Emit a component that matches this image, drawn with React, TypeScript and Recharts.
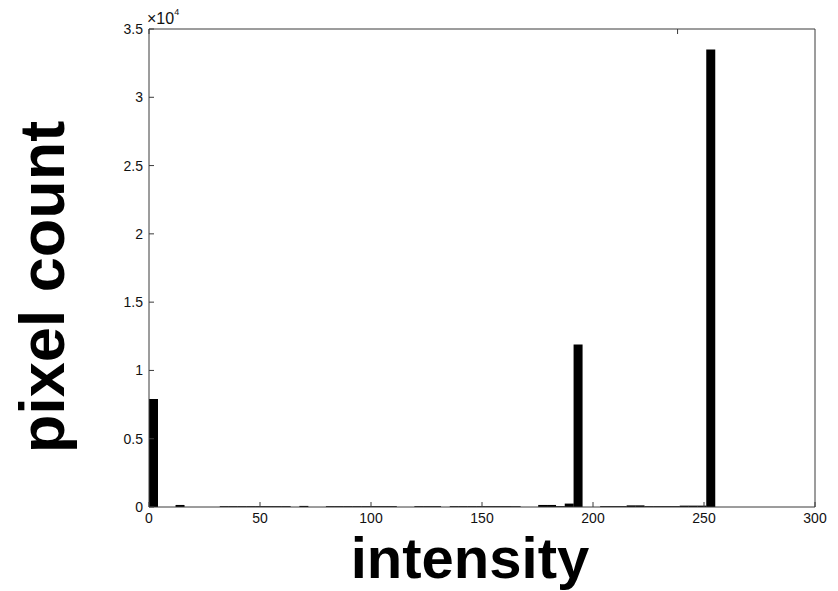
import { BarChart, Bar, XAxis, YAxis } from 'recharts'

// histogram of a 0..255 image, 64 bins
const BIN_COUNT = 64
const BIN_WIDTH = 255 / BIN_COUNT

// pixel count per bin
const counts = [
  7900, 0, 0, 150, 0, 0, 0, 0,
  60, 60, 60, 60, 60, 60, 60, 60,
  0, 80, 0, 0, 60, 60, 60, 60,
  60, 60, 60, 60, 0, 0, 60, 60,
  60, 0, 60, 60, 60, 60, 60, 60,
  60, 60, 0, 0, 150, 150, 60, 250,
  11900, 0, 0, 60, 60, 60, 120, 120,
  60, 60, 60, 60, 100, 100, 100, 33500,
]

const xTicks = [0, 50, 100, 150, 200, 250, 300]
const yTicks = [0, 5000, 10000, 15000, 20000, 25000, 30000, 35000]

const data = counts.slice(0, BIN_COUNT).map((count, i) => ({
  center: (i + 0.5) * BIN_WIDTH,
  count,
}))

const axisColor = '#3a3a3a'
const fontFamily = 'Liberation Sans, Arial, sans-serif'
const tickFont = { fontSize: 14, fill: '#111', fontFamily }

const fmtY = (v: number) => String(v / 10000)
const noLabel = () => <g />

export default function App() {
  return (
    <div style={{ position: 'absolute', left: 0, top: 0, width: 838, height: 591, background: '#fff' }}>
      <BarChart
        width={838}
        height={591}
        data={data}
        margin={{ top: 28, right: 22, left: 109, bottom: 54 }}
        barCategoryGap={0}
        barGap={0}
      >
        <XAxis
          dataKey="center"
          type="number"
          domain={[0, 300]}
          ticks={xTicks}
          height={30}
          stroke={axisColor}
          tickSize={-5}
          tickMargin={11}
          tick={tickFont}
          fontSize={14}
          interval={0}
        />
        <XAxis
          xAxisId="top"
          orientation="top"
          type="number"
          domain={[0, 300]}
          ticks={xTicks}
          height={1}
          stroke={axisColor}
          tickSize={-5}
          tick={noLabel}
          interval={0}
        />
        <YAxis
          type="number"
          domain={[0, 35000]}
          ticks={yTicks}
          width={40}
          stroke={axisColor}
          tickSize={-5}
          tickMargin={11}
          tick={tickFont}
          fontSize={14}
          tickFormatter={fmtY}
          interval={0}
        />
        <YAxis
          yAxisId="right"
          orientation="right"
          type="number"
          domain={[0, 35000]}
          ticks={yTicks}
          width={1}
          stroke={axisColor}
          tickSize={-5}
          tick={noLabel}
          interval={0}
        />
        <Bar dataKey="count" fill="#000" isAnimationActive={false} />
      </BarChart>
      <svg
        width={838}
        height={591}
        style={{ position: 'absolute', left: 0, top: 0, pointerEvents: 'none' }}
      >
        <text x={147} y={24} fontSize={16} fill="#111" fontFamily={fontFamily}>
          ×10
          <tspan fontSize={9} dy={-9}>4</tspan>
        </text>
        <text
          x={470}
          y={578}
          textAnchor="middle"
          fontSize={58}
          fontWeight="bold"
          fill="#000"
          fontFamily={fontFamily}
        >
          intensity
        </text>
        <text
          x={64}
          y={287}
          textAnchor="middle"
          fontSize={63}
          fontWeight="bold"
          fill="#000"
          fontFamily={fontFamily}
          transform="rotate(-90, 64, 287)"
        >
          pixel count
        </text>
      </svg>
    </div>
  )
}
